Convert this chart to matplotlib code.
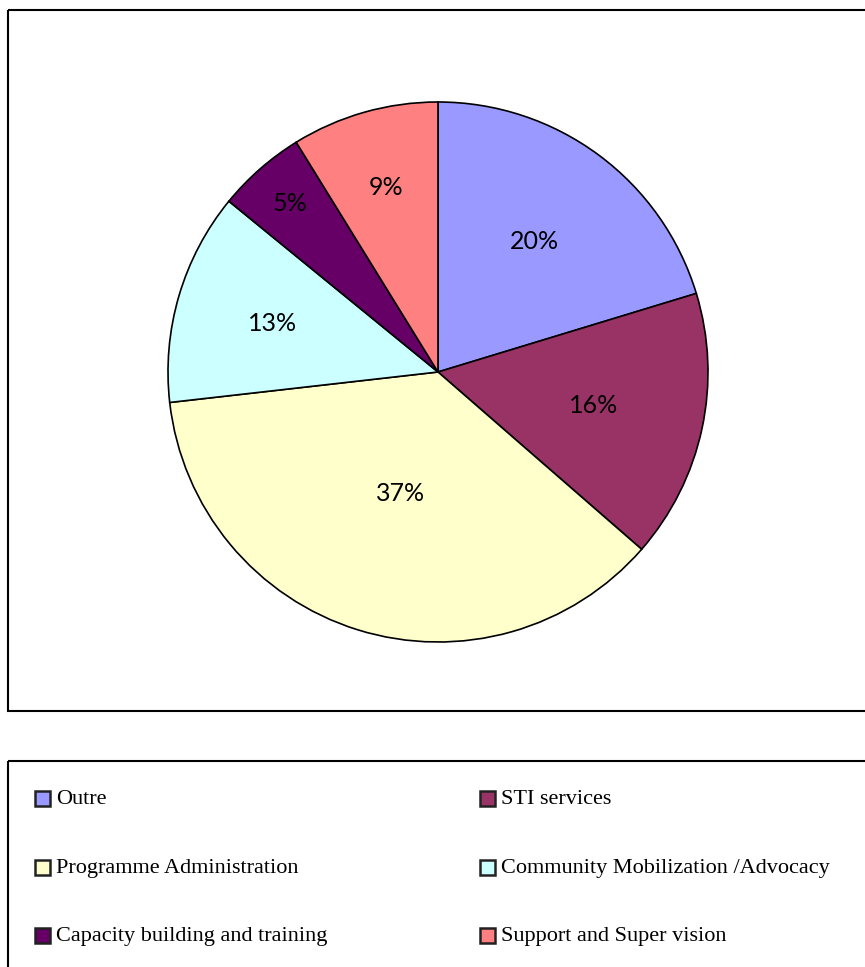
import matplotlib
matplotlib.use("Agg")
import matplotlib.pyplot as plt
import numpy as np
from matplotlib.patches import Rectangle

categories = ["Outre", "STI services", "Programme Administration",
              "Community Mobilization /Advocacy", "Capacity building and training",
              "Support and Super vision"]
values = [20.3, 16.1, 36.8, 12.7, 5.3, 8.8]
colors = ["#9999FF", "#993366", "#FFFFCC", "#CCFFFF", "#660066", "#FF8080"]
label_dist = [0.60, 0.59, 0.47, 0.64, 0.83, 0.71]

W, H = 865, 967
fig = plt.figure(figsize=(W / 100, H / 100), dpi=100)

# background overlay axes in pixel coords
bg = fig.add_axes([0, 0, 1, 1])
bg.set_xlim(0, W)
bg.set_ylim(H, 0)
bg.axis("off")
bg.add_patch(Rectangle((8, 10), 870, 701, fill=False, lw=1.5, ec="black"))
bg.add_patch(Rectangle((8, 761), 870, 230, fill=False, lw=1.5, ec="black"))

# pie
cx, cy, r = 438, 372, 270
ax = fig.add_axes([(cx - r) / W, 1 - (cy + r) / H, 2 * r / W, 2 * r / H])
wedges, _ = ax.pie(values, colors=colors, startangle=90, counterclock=False,
                   wedgeprops=dict(edgecolor="black", linewidth=1.2))
total = sum(values)
for w, v, d in zip(wedges, values, label_dist):
    ang = np.deg2rad((w.theta1 + w.theta2) / 2)
    ax.text(d * np.cos(ang), d * np.sin(ang), f"{100 * v / total:.0f}%",
            ha="center", va="center", fontsize=18, family="Lato")
ax.set_xlim(-1, 1)
ax.set_ylim(-1, 1)
ax.set_aspect("equal")

# legend
col_x = [35, 480]
row_y = [798, 867, 935]
for i, (lab, c) in enumerate(zip(categories, colors)):
    x = col_x[i % 2]
    y = row_y[i // 2]
    bg.add_patch(Rectangle((x - 0.5, y - 7.5), 15, 15, fc=c, ec="#222222", lw=1.8))
    bg.text(x + 21, y + 2, lab, ha="left", va="center", fontsize=16,
            family="Liberation Serif")

fig.savefig("out.png", dpi=100)
